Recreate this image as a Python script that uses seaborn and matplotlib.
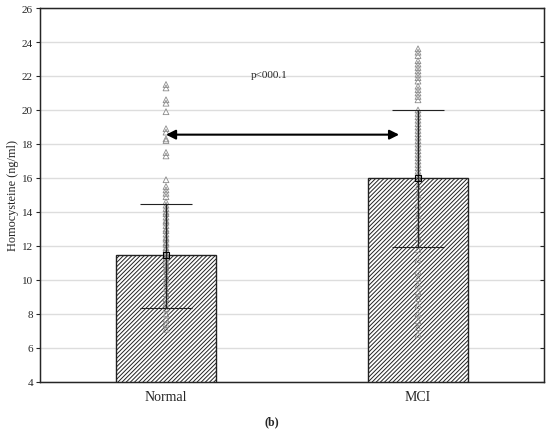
import numpy as np
import pandas as pd
import matplotlib
matplotlib.use("Agg")
import matplotlib.pyplot as plt
import seaborn as sns

# summary values (ng/ml)
groups = ["Normal", "MCI"]
means = [11.45, 16.0]
err_low = [8.35, 11.95]
err_high = [14.5, 20.0]

# individual observations
normal_vals = [21.5, 21.3, 20.6, 20.4, 19.9, 18.9, 18.7, 18.3, 18.2, 17.5, 17.3,
               15.9, 15.5, 15.3, 15.1, 14.9, 14.6, 14.4, 14.2, 14.0, 13.9, 13.7,
               13.5, 13.4, 13.2, 13.0, 12.9, 12.7, 12.5, 12.4, 12.2, 12.1, 11.9,
               11.8, 11.6, 11.5, 11.3, 11.1, 10.9, 10.7, 10.5, 10.2, 10.0, 9.8,
               9.5, 9.2, 8.9, 8.6, 8.3, 8.0, 7.7, 7.4, 7.1]
mci_vals = [23.6, 23.4, 23.2, 22.9, 22.7, 22.5, 22.3, 22.1, 21.9, 21.7, 21.4,
            21.2, 21.0, 20.8, 20.6, 20.0, 19.8, 19.6, 19.4, 19.2, 19.0, 18.8,
            18.6, 18.4, 18.2, 18.0, 17.8, 17.6, 17.4, 17.2, 17.0, 16.8, 16.6,
            16.4, 16.2, 16.0, 15.5, 15.0, 14.4, 13.8, 13.1, 12.5, 11.8, 11.2,
            10.5, 10.1, 9.7, 9.3, 8.9, 8.5, 8.0, 7.6, 7.2, 6.8]
p_text = "p<000.1"

sns.set_style("white")
plt.rcParams['font.family'] = ['Liberation Serif', 'DejaVu Serif']
plt.rcParams['hatch.linewidth'] = 0.7

summary = pd.DataFrame({"group": groups, "mean": means})
points = pd.DataFrame({
    "group": ["Normal"] * len(normal_vals) + ["MCI"] * len(mci_vals),
    "value": normal_vals + mci_vals,
})

fig = plt.figure(figsize=(5.5, 4.31), dpi=100)
ax = fig.add_axes([40 / 550, 48 / 431, 504 / 550, 374 / 431])

sns.barplot(data=summary, x="group", y="mean", order=groups, errorbar=None,
            width=0.4, color="white", edgecolor="#222222", linewidth=1.0,
            hatch="////////", ax=ax)
for p in ax.patches:
    p.set_zorder(2)

sns.stripplot(data=points, x="group", y="value", order=groups, jitter=False,
              marker="^", size=4.2, color="#999999", ax=ax)
for coll in ax.collections:
    coll.set_facecolor("none")
    coll.set_edgecolor("#8c8c8c")
    coll.set_linewidth(0.6)
    coll.set_zorder(3)

xpos = np.arange(len(groups))
lower = np.array(means) - np.array(err_low)
upper = np.array(err_high) - np.array(means)
ax.errorbar(xpos, means, yerr=[lower, upper], fmt="s", ms=4, mfc="none",
            mec="black", mew=0.8, ecolor="#222222", elinewidth=1.0,
            capsize=18.5, capthick=1.0, zorder=4)

ax.annotate("", xy=(0.0, 18.55), xytext=(0.925, 18.55),
            arrowprops=dict(arrowstyle="<|-|>", color="black", lw=1.5,
                            mutation_scale=14, shrinkA=0, shrinkB=0), zorder=5)
ax.text(0.41, 22.1, p_text, ha="center", va="center", fontsize=8)

ax.set_xlim(-0.5, 1.5)
ax.set_ylim(4, 26)
ax.set_yticks(np.arange(4, 27, 2))
ax.yaxis.grid(True, color="#dddddd", linewidth=1.0, zorder=0)
ax.set_axisbelow(True)
ax.tick_params(axis="y", direction="out", length=3, width=0.8, labelsize=8,
               left=True, pad=2)
ax.tick_params(axis="x", length=0, labelsize=10, pad=6)
for s in ax.spines.values():
    s.set_color("#222222")
    s.set_linewidth(1.0)

ax2 = ax.twinx()
ax2.set_ylim(4, 26)
ax2.set_yticks(np.arange(4, 27, 2))
ax2.tick_params(axis="y", direction="in", length=3, width=0.8, labelright=False)

ax.set_ylabel("Homocysteine (ng/ml)", fontsize=8.8, labelpad=2)
ax.set_xlabel("")
fig.text(272 / 550, 9 / 431, "(b)", ha="center", va="center",
         fontsize=8.5, fontweight="bold")

fig.savefig("out.png", dpi=100)
